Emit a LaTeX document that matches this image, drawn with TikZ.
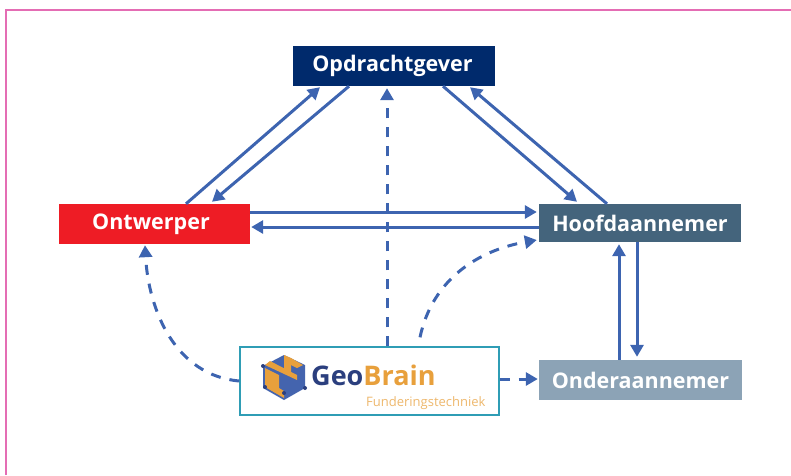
\documentclass[tikz,border=0pt]{standalone}
\usepackage{fontspec}
\setmainfont{Open Sans}
\usepackage{xcolor}
\definecolor{arrowblue}{HTML}{3D64B0}
\definecolor{navy}{HTML}{002A6C}
\definecolor{redbox}{HTML}{EE1C25}
\definecolor{slate}{HTML}{44647C}
\definecolor{greyblue}{HTML}{8CA3B6}
\definecolor{teal}{HTML}{2F9DB5}
\definecolor{pinkline}{HTML}{E46DB4}
\definecolor{geoorange}{HTML}{E8A03C}
\definecolor{geonavy}{HTML}{2B3F7E}
\definecolor{geoblue}{HTML}{4464AE}
\usetikzlibrary{arrows.meta}

\tikzset{
  role/.style={text=white, font=\fontsize{21.5}{24}\selectfont\bfseries, inner sep=0pt, minimum height=40pt},
  flow/.style={-{Triangle[length=12pt,width=13pt]}, draw=arrowblue, line width=3pt},
  advice/.style={flow, dash pattern=on 10pt off 9pt}
}

\begin{document}
\begin{tikzpicture}[x=1pt, y=-1pt]
    \useasboundingbox (0,0) rectangle (791,475);
    % Frame
    \draw[pinkline, line width=1.2pt] (6,475) -- (6,10) -- (791,10);

    % Roles
    \node[role, fill=navy, minimum width=202pt] (opdrachtgever) at (394,66) {\kern-3pt Opdrachtgever};
    \node[role, fill=redbox, minimum width=191pt] (ontwerper) at (154.5,224) {\kern-7pt Ontwerper};
    \node[role, fill=slate, minimum width=202pt, minimum height=38pt] (hoofdaannemer) at (640,223) {Hoofdaannemer};
    \node[role, fill=greyblue, minimum width=203pt] (onderaannemer) at (640.5,380) {Onderaannemer};
    \node[draw=teal, fill=white, line width=1.4pt, minimum width=259pt, minimum height=68pt, inner sep=0pt] (geobrain) at (369.5,381) {};

    % Logo
    \fill[geoblue] (263,366) -- (284,355) -- (305,365) -- (305,388) -- (284,400) -- (263,388) -- cycle;
    \fill[geoorange] (265,368) -- (279,375) -- (279,388) -- (284,391) -- (284,398) -- (265,387) -- cycle;
    \fill[geoorange] (284,355) -- (291,358) -- (291,374) -- (284,371) -- cycle;
    \fill[geoorange] (270,361) -- (297,375) -- (297,380) -- (265,365) -- cycle;
    \fill[geoorange] (291,358) -- (303,365) -- (297,368) -- (291,365) -- cycle;
    \fill[geonavy] (263,366) circle (2pt) (305,388) circle (2pt) (265,387) circle (2pt) (284,393) circle (2pt);

    \node[anchor=base west, inner sep=0pt, font=\fontsize{27}{32}\selectfont\bfseries] (geobrainname) at (311,385) {\textcolor{geonavy}{Geo}\textcolor{geoorange}{Brain}};
    \node[anchor=base west, inner sep=0pt, text=geoorange!75!white, font=\fontsize{13}{14}\selectfont] (geobrainsub) at (366,406) {Funderingstechniek};

    % Contract lines
    \draw[flow] ([xshift=31.5pt]ontwerper.north) -- ([xshift=-74pt,yshift=-1pt]opdrachtgever.south);
    \draw[flow] ([xshift=-45pt]opdrachtgever.south) -- ([xshift=57.5pt,yshift=2pt]ontwerper.north);
    \draw[flow] ([xshift=49pt]opdrachtgever.south) -- ([xshift=-63pt,yshift=2pt]hoofdaannemer.north);
    \draw[flow] ([xshift=-33pt]hoofdaannemer.north) -- ([xshift=76pt,yshift=-1pt]opdrachtgever.south);
    \draw[flow] ([yshift=12pt]ontwerper.east) -- ([yshift=11pt,xshift=-2pt]hoofdaannemer.west);
    \draw[flow] ([yshift=-4pt]hoofdaannemer.west) -- ([yshift=-3pt,xshift=1pt]ontwerper.east);
    \draw[flow] ([xshift=-21.5pt]onderaannemer.north) -- ([xshift=-21pt,yshift=-2pt]hoofdaannemer.south);
    \draw[flow] ([xshift=-3pt]hoofdaannemer.south) -- ([xshift=-3.5pt,yshift=3pt]onderaannemer.north);

    % Advice lines
    \draw[advice] ([xshift=17.5pt]geobrain.north) -- ([xshift=-7pt,yshift=-2pt]opdrachtgever.south);
    \draw[advice] ([xshift=50.5pt,yshift=9pt]geobrain.north) to[out=78, in=190] ([yshift=-17pt,xshift=-2pt]hoofdaannemer.west);
    \draw[advice] (geobrain.west) to[out=175, in=-87] ([xshift=-9.5pt,yshift=-1pt]ontwerper.south);
    \draw[advice] ([yshift=2pt]geobrain.east) -- ([yshift=1pt,xshift=-1pt]onderaannemer.west);
  \end{tikzpicture}
\end{document}
